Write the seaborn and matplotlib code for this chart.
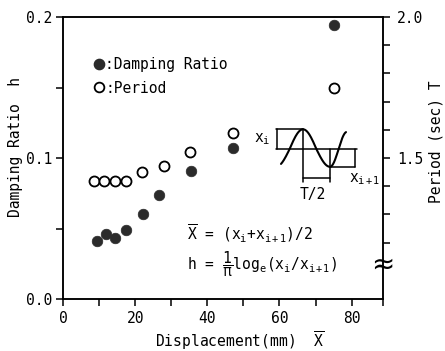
import numpy as np
import matplotlib
matplotlib.use("Agg")
import matplotlib.pyplot as plt
from matplotlib.lines import Line2D
import seaborn as sns
import pandas as pd

# ---- data ----
disp_h = [9.3, 12.0, 14.5, 17.6, 22.3, 26.6, 35.5, 47.2, 75.0]
damping = [0.041, 0.046, 0.043, 0.049, 0.060, 0.074, 0.091, 0.107, 0.194]
disp_T = [8.6, 11.4, 14.3, 17.4, 22.0, 27.9, 35.2, 47.2, 75.0]
period = [1.42, 1.42, 1.42, 1.42, 1.45, 1.47, 1.52, 1.59, 1.75]

x_major = [0, 20, 40, 60, 80]
x_minor = [10, 30, 50, 70, 88.7]
h_major = [0.0, 0.1, 0.2]
h_minor = [0.05, 0.15]
T_major = [1.5, 2.0]
T_minor = [1.2, 1.3, 1.4, 1.6, 1.7, 1.8, 1.9]

sns.set_theme(style="ticks", rc={"axes.edgecolor": "black", "axes.linewidth": 1.1,
                                 "xtick.color": "black", "ytick.color": "black",
                                 "text.color": "black", "axes.labelcolor": "black"})
plt.rcParams['font.family'] = ['DejaVu Sans Mono', 'DejaVu Sans']
plt.rcParams['mathtext.fontset'] = 'custom'
plt.rcParams['mathtext.rm'] = 'DejaVu Sans Mono'
plt.rcParams['mathtext.it'] = 'DejaVu Sans Mono'
plt.rcParams['mathtext.bf'] = 'DejaVu Sans Mono'

FS = 10.5
W, H = 445, 351
fig = plt.figure(figsize=(W / 100, H / 100), dpi=100)
L, R, T, B = 63, 383, 17, 299
ax = fig.add_axes([L / W, 1 - B / H, (R - L) / W, (B - T) / H])
ax2 = ax.twinx()

df_h = pd.DataFrame({"x": disp_h, "h": damping})
df_T = pd.DataFrame({"x": disp_T, "T": period})

sns.scatterplot(data=df_h, x="x", y="h", ax=ax, color="#2b2b2b", edgecolor="#2b2b2b",
                s=58, linewidth=0.5, legend=False, zorder=3)
sns.scatterplot(data=df_T, x="x", y="T", ax=ax2, color="white", edgecolor="black",
                s=52, linewidth=1.3, legend=False, zorder=3)

ax.set_xlim(0, 88.7)
ax.set_ylim(0, 0.2)
ax2.set_ylim(1.0, 2.0)

ax.set_xticks(x_major)
ax.set_xticklabels([str(v) for v in x_major])
ax.set_xticks(x_minor, minor=True)
ax.set_yticks(h_major)
ax.set_yticklabels([f"{v:.1f}" for v in h_major])
ax.set_yticks(h_minor, minor=True)
ax2.set_yticks(T_major)
ax2.set_yticklabels([f"{v:.1f}" for v in T_major])
ax2.set_yticks(T_minor, minor=True)

ax.set_xlabel("")
ax.set_ylabel("")
ax2.set_ylabel("")
for a in (ax, ax2):
    a.tick_params(axis="both", which="both", direction="out", length=5, width=1.1,
                  labelsize=FS, pad=3)
    for s in a.spines.values():
        s.set_visible(True)
        s.set_linewidth(1.1)
        s.set_color("black")
ax.tick_params(axis="x", pad=3.5)
ax2.tick_params(axis="y", pad=5)

# legend
handles = [Line2D([], [], marker="o", ls="", markersize=7.4, markerfacecolor="#2b2b2b",
                  markeredgecolor="#2b2b2b"),
           Line2D([], [], marker="o", ls="", markersize=7.0, markerfacecolor="white",
                  markeredgecolor="black", markeredgewidth=1.3)]
ax.legend(handles, [":Damping Ratio", ":Period"], loc="center left",
          bbox_to_anchor=(93 / W, 1 - 76.5 / H), bbox_transform=fig.transFigure,
          frameon=False, fontsize=FS, handlelength=0.85, handletextpad=0.0,
          borderpad=0, borderaxespad=0, labelspacing=0.55)

# axis labels
fig.text(16 / W, 1 - 147 / H, "Damping Ratio  h", rotation=90, ha="center", va="center", fontsize=FS)
fig.text(436 / W, 1 - 142 / H, "Period (sec) T", rotation=90, ha="center", va="center", fontsize=FS)
fig.text(240 / W, 1 - 341 / H, r"Displacement(mm)  $\overline{\mathrm{X}}$", ha="center",
         va="center", fontsize=FS)

# overlay for schematic & formulas (pixel coordinates)
ov = fig.add_axes([0, 0, 1, 1])
ov.set_xlim(0, W)
ov.set_ylim(H, 0)
ov.axis("off")

# schematic of decaying oscillation
axis_y, peak_x, trough_x = 149.3, 303, 330
amp1, amp2, half1, half2 = 20.0, 17.5, 27.0, 17.0
xa = np.linspace(281, trough_x, 120)
ca = np.cos(np.pi * (xa - peak_x) / half1)
ya = axis_y - ca * np.where(ca > 0, amp1, amp2)
xb = np.linspace(trough_x, 346, 60)
yb = axis_y + amp2 * np.cos(np.pi * (xb - trough_x) / half2)
lw = 1.1
ov.plot(np.r_[xa, xb], np.r_[ya, yb], color="black", lw=1.5)
ov.plot([276, 357], [axis_y, axis_y], color="black", lw=lw)
ov.plot([276, peak_x], [axis_y - amp1] * 2, color="black", lw=lw)
ov.plot([276.5, 276.5], [axis_y - amp1, axis_y], color="black", lw=lw)
ov.plot([peak_x, peak_x], [axis_y - amp1, 182], color="black", lw=lw)
ov.plot([trough_x, trough_x], [axis_y, 182], color="black", lw=lw)
ov.plot([peak_x, trough_x], [178, 178], color="black", lw=lw)
ov.plot([trough_x, 355], [axis_y + amp2] * 2, color="black", lw=lw)
ov.plot([354.5, 354.5], [axis_y, axis_y + amp2], color="black", lw=lw)
ov.text(262, 139, r"x$_{\mathrm{i}}$", ha="center", va="center", fontsize=FS)
ov.text(349, 179, r"x$_{\mathrm{i+1}}$", ha="left", va="center", fontsize=FS)
ov.text(313, 195, "T/2", ha="center", va="center", fontsize=FS)

# formulas
ov.text(187, 240, r"$\overline{\mathrm{X}}$ = (x$_{\mathrm{i}}$+x$_{\mathrm{i+1}}$)/2",
        ha="left", va="baseline", fontsize=FS)
ov.text(187, 270, r"h = $\dfrac{1}{\pi}$log$_{\mathrm{e}}$(x$_{\mathrm{i}}$/x$_{\mathrm{i+1}}$)",
        ha="left", va="baseline", fontsize=FS)

# axis break mark
ov.text(383, 265, "≈", ha="center", va="center", fontsize=20, family="DejaVu Sans")

fig.savefig("out.png", dpi=100)
